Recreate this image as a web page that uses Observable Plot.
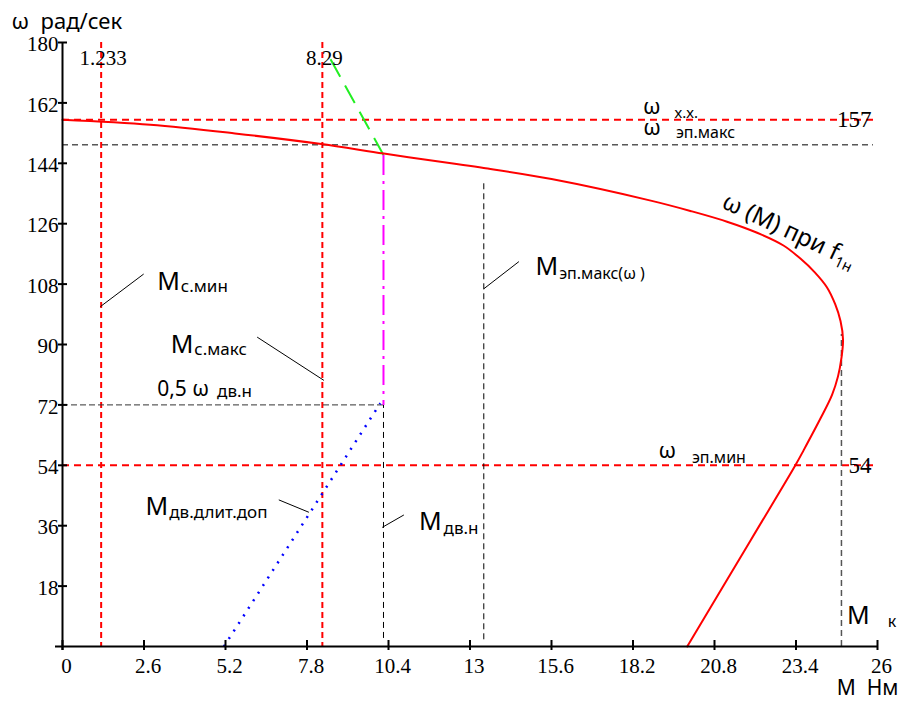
<!DOCTYPE html>
<html><head><meta charset="utf-8">
<script src="https://cdn.jsdelivr.net/npm/d3@7"></script>
<script src="https://cdn.jsdelivr.net/npm/@observablehq/plot@0.6"></script>
<style>body{margin:0;background:#fff}</style>
</head><body><div id="chart"></div>
<script>
// ---- data ----
const xTicks = [0, 2.6, 5.2, 7.8, 10.4, 13, 15.6, 18.2, 20.8, 23.4, 26];
const yTicks = [18, 36, 54, 72, 90, 108, 126, 144, 162, 180];
// ω(M) at f1н
const curveM = [0, 2.8, 5.5, 8.2, 10.25, 12.4, 13.44, 15.6, 18.8, 20.03, 21.2, 22.16, 23.0, 23.54, 24.0, 24.39, 24.65, 24.82, 24.9, 24.85, 24.74, 24.55, 24.2, 23.65, 23.38, 21.95, 19.93];
const curveW = [157, 155.5, 152.9, 149.8, 146.9, 144.0, 142.6, 139.3, 132.8, 129.8, 126.6, 123.3, 119.5, 115.6, 111.5, 107, 102, 97, 91.5, 86, 80.5, 75, 68.3, 58.6, 54, 31.6, 0];
// markers
const markerM = [1.233, 8.29];      // Mс.мин, Mс.макс
const markerW = [157, 54];          // ωх.х., ωэп.мин
const wEpMax = [149.5];             // ωэп.макс
const wEpMaxM = [0, 25.87];
const halfW = [72];                 // 0,5 ωдв.н
const halfWM = [0, 10.24];
const nomM = [10.24];               // Mдв.н
const nomW = [2.4, 72];
const epMaxM = [13.44];             // Mэп.макс(ω)
const epMaxW = [2, 138.3];
const kM = [24.85];                 // Mк
const kW = [0, 93];
// auxiliary segments
const greenM = [8.55, 10.24], greenW = [175, 146.5];
const magentaM = [10.24, 10.24], magentaW = [146.5, 72];
const blueM = [5.15, 10.14], blueW = [0, 72.5];
// leader lines
const leadM1 = [1.21, 6.21, 13.44, 6.9, 10.2];
const leadW1 = [101.3, 92.2, 106.6, 43.7, 35.5];
const leadM2 = [2.59, 8.34, 14.56, 7.86, 10.89];
const leadW2 = [111, 79.3, 114.7, 40, 39.2];
// annotation texts ("|" separates subscript)
const omegaLabels = ["ω|х.х.", "ω|эп.макс", "ω|эп.мин"];
const omegaM = [18.52, 18.53, 19.01];
const omegaW = [158.7, 152.3, 56.3];
const mLabels = ["M|с.мин", "M|с.макс", "M|эп.макс(ω )", "M|дв.длит.доп", "M|дв.н", "M|к"];
const mLabM = [3.02, 3.45, 15.09, 2.65, 11.37, 25.03];
const mLabW = [106.1, 87.4, 110.6, 39.3, 34.8, 6.8];
const halfLabel = ["0,5 ω|дв.н"];
const halfLabM = [3.02], halfLabW = [74.8];
const curveLabel = ["ω (M) при f|1н"];
const curveLabM = [20.99], curveLabW = [130.9];
const yTitle = ["ω  рад/сек"];
const xTitle = ["M  Нм"];

// subscript styling keyed by label: [gap px, shift px, size px]
const subStyle = {
  "ω|х.х.": [14, 4, 15], "ω|эп.макс": [15, 3, 16], "ω|эп.мин": [16, 5, 16],
  "M|с.мин": [1, 2, 17], "M|с.макс": [1, 2, 17], "M|эп.макс(ω )": [1, 4, 16],
  "M|дв.длит.доп": [1, 3, 17], "M|дв.н": [2, 4, 17], "M|к": [18, 3, 16],
  "0,5 ω|дв.н": [8, 1, 17], "ω (M) при f|1н": [0, 5, 15]
};

const pts = (M, W) => M.map((m, i) => ({M: m, w: W[i]}));
const seg = (M, W) => [{x1: M[0], y1: W[0], x2: M[1], y2: W[1]}];
const serif = "Liberation Serif";
const sans = "Noto Sans";

const chart = Plot.plot({
  width: 903, height: 704,
  marginLeft: 62, marginRight: 26, marginTop: 42, marginBottom: 58,
  x: {domain: [0, 26]},
  y: {domain: [0, 180]},
  style: {background: "white", overflow: "visible", color: "black"},
  marks: [
    // reference lines
    Plot.ruleX(markerM, {stroke: "#ff0000", strokeWidth: 2, strokeDasharray: "6,4"}),
    Plot.ruleY(markerW, {stroke: "#ff0000", strokeWidth: 2, strokeDasharray: "7,5"}),
    Plot.ruleY(wEpMax, {x1: wEpMaxM[0], x2: wEpMaxM[1], stroke: "black", strokeWidth: 1, strokeDasharray: "6,4"}),
    Plot.ruleY(halfW, {x1: halfWM[0], x2: halfWM[1], stroke: "#333", strokeWidth: 1, strokeDasharray: "6,3"}),
    Plot.ruleX(nomM, {y1: nomW[0], y2: nomW[1], stroke: "black", strokeWidth: 1, strokeDasharray: "6,4"}),
    Plot.ruleX(epMaxM, {y1: epMaxW[0], y2: epMaxW[1], stroke: "black", strokeWidth: 1, strokeDasharray: "6,4"}),
    Plot.ruleX(kM, {y1: kW[0], y2: kW[1], stroke: "#555", strokeWidth: 1.5, strokeDasharray: "6,4"}),
    // auxiliary segments
    Plot.link(seg(greenM, greenW), {x1: "x1", y1: "y1", x2: "x2", y2: "y2", stroke: "#22ee22", strokeWidth: 2, strokeDasharray: "20,10"}),
    Plot.link(seg(magentaM, magentaW), {x1: "x1", y1: "y1", x2: "x2", y2: "y2", stroke: "#ff00ff", strokeWidth: 2, strokeDasharray: "20,6,3,6"}),
    Plot.link(seg(blueM, blueW), {x1: "x1", y1: "y1", x2: "x2", y2: "y2", stroke: "#0000ff", strokeWidth: 2.5, strokeDasharray: "2,7"}),
    // main curve
    Plot.line(pts(curveM, curveW), {x: "M", y: "w", stroke: "#ff0000", strokeWidth: 2, curve: "catmull-rom"}),
    // leader lines
    Plot.link(leadM1.map((m, i) => ({x1: m, y1: leadW1[i], x2: leadM2[i], y2: leadW2[i]})), {x1: "x1", y1: "y1", x2: "x2", y2: "y2", stroke: "black", strokeWidth: 1}),
    // axes
    Plot.ruleX([0], {stroke: "black", strokeWidth: 2, insetBottom: -4}),
    Plot.ruleY([0], {stroke: "black", strokeWidth: 2, insetLeft: -7}),
    Plot.axisX({ticks: xTicks, tickSize: 10, dy: -6, fill: "none", label: null, strokeWidth: 2}),
    Plot.axisX({ticks: xTicks, tickSize: 0, tickPadding: 12, dx: 4, label: null, fontSize: 21, fontFamily: serif, tickFormat: d => String(d)}),
    Plot.axisY({ticks: yTicks, tickSize: 9, dx: 5, fill: "none", label: null, strokeWidth: 2}),
    Plot.axisY({ticks: yTicks, tickSize: 0, tickPadding: 4, dy: 2, label: null, fontSize: 21, fontFamily: serif, tickFormat: d => String(d)}),
    // marker value labels
    Plot.text(markerM, {x: d => d, text: d => String(d), frameAnchor: "top", dy: 22, dx: 2, lineAnchor: "bottom", fontSize: 21, fontFamily: serif}),
    Plot.text(markerW, {y: d => d, text: d => String(d), frameAnchor: "right", textAnchor: "end", dx: -6, lineAnchor: "middle", fontSize: 23, fontFamily: serif}),
    // annotations
    Plot.text(omegaLabels, {x: (d, i) => omegaM[i], y: (d, i) => omegaW[i], text: d => d, textAnchor: "start", lineAnchor: "bottom", fontSize: 22, fontFamily: sans}),
    Plot.text(mLabels, {x: (d, i) => mLabM[i], y: (d, i) => mLabW[i], text: d => d, textAnchor: "start", lineAnchor: "bottom", fontSize: 25, fontFamily: sans}),
    Plot.text(halfLabel, {x: (d, i) => halfLabM[i], y: (d, i) => halfLabW[i], text: d => d, textAnchor: "start", lineAnchor: "bottom", fontSize: 21, fontFamily: sans}),
    Plot.text(curveLabel, {x: (d, i) => curveLabM[i], y: (d, i) => curveLabW[i], text: d => d, textAnchor: "start", lineAnchor: "bottom", rotate: 25, fontSize: 24, fontFamily: sans}),
    // axis titles
    Plot.text(yTitle, {frameAnchor: "top-left", text: d => d, textAnchor: "start", lineAnchor: "bottom", dx: -51, dy: -14, fontSize: 22, fontFamily: sans}),
    Plot.text(xTitle, {frameAnchor: "bottom-right", text: d => d, textAnchor: "end", lineAnchor: "bottom", dx: 21, dy: 48, fontSize: 21, fontFamily: sans})
  ]
});

// subscripts
d3.select(chart).selectAll("text").each(function () {
  const t = this.textContent;
  if (!t.includes("|")) return;
  const [a, b] = t.split("|");
  const st = subStyle[t] || [1, 3, 16];
  this.textContent = "";
  const sel = d3.select(this);
  sel.append("tspan").text(a);
  sel.append("tspan").attr("dx", st[0]).attr("dy", st[1]).attr("font-size", st[2]).text(b);
});
d3.select(chart).selectAll("text").style("white-space", "pre");
document.getElementById("chart").appendChild(chart);
</script>
</body></html>
